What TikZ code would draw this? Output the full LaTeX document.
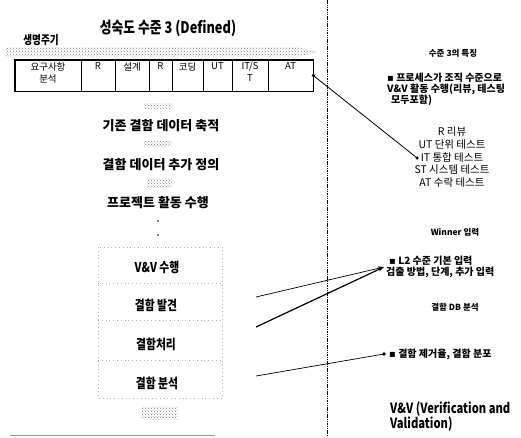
\documentclass[tikz,border=0pt]{standalone}
\usepackage{fontspec}
\setmainfont{Noto Sans CJK KR}
\newfontfamily\krc{Noto Sans CJK KR}[FakeStretch=0.8]
\newfontfamily\dejavu{DejaVu Sans}
\usetikzlibrary{patterns,arrows.meta}
\tikzset{
  cell/.style={draw, line width=0.6pt, minimum height=31pt, inner sep=0pt},
  celltext/.style={font=\fontsize{9.5}{12}\selectfont, anchor=north, inner sep=0pt, align=center},
  midtext/.style={font=\bfseries\fontsize{13}{15}\selectfont, inner sep=1pt},
  boxtext/.style={font=\krc\bfseries\fontsize{13.5}{15}\selectfont, inner sep=1pt},
  head/.style={font=\bfseries\fontsize{8.5}{10}\selectfont, inner sep=1pt},
  listtext/.style={font=\fontsize{10.5}{12}\selectfont, inner sep=3.5pt},
  note/.style={font=\bfseries\fontsize{10}{10.5}\selectfont, align=left, inner sep=2pt},
  patch/.style={pattern=crosshatch dots, pattern color=gray},
  faint/.style={gray!60, line width=0.5pt, dash pattern=on 0.8pt off 3pt},
  link/.style={line width=0.8pt},
  enddot/.style={fill=black},
}
\begin{document}
\begin{tikzpicture}[x=1pt,y=-1pt]
\useasboundingbox (0,0) rectangle (521,437);

% title
\node[font=\krc\bfseries\fontsize{16}{17}\selectfont] (title) at (168,28) {성숙도 수준 3 (Defined)};
\node[font=\krc\bfseries\fontsize{12}{12}\selectfont] (life) at (41,40) {생명주기};

% gray band
\fill[patch] (5,47) -- (298,47) -- (318,52) -- (298,57) -- (5,57) -- cycle;

% table cells
\node[cell, minimum width=66pt] (c1) at (48,75.5) {};
\node[cell, minimum width=34pt] (c2) at (98,75.5) {};
\node[cell, minimum width=34pt] (c3) at (132,75.5) {};
\node[cell, minimum width=23pt] (c4) at (160.5,75.5) {};
\node[cell, minimum width=31pt] (c5) at (187.5,75.5) {};
\node[cell, minimum width=29pt] (c6) at (217.5,75.5) {};
\node[cell, minimum width=36pt] (c7) at (250,75.5) {};
\node[cell, minimum width=45pt] (c8) at (290.5,75.5) {};
\draw[line width=1.6pt] (c1.north west) rectangle (c8.south east);
\node[celltext, below=2.5pt] (t1) at (c1.north) {요구사항\\분석};
\node[celltext, below=2.5pt] (t2) at (c2.north) {R};
\node[celltext, below=2.5pt] (t3) at (c3.north) {설계};
\node[celltext, below=2.5pt] (t4) at (c4.north) {R};
\node[celltext, below=2.5pt] (t5) at (c5.north) {코딩};
\node[celltext, below=2.5pt] (t6) at (c6.north) {UT};
\node[celltext, below=2.5pt] (t7) at (c7.north) {IT/S\\T};
\node[celltext, below=2.5pt] (t8) at (c8.north) {AT};

% middle flow
\fill[patch] (144,103) rectangle (172,108);
\node[midtext] (m1) at (161,126) {기존 결함 데이터 축적};
\fill[patch] (144,141) rectangle (172,146);
\node[midtext] (m2) at (161,165) {결함 데이터 추가 정의};
\fill[patch] (147,178) rectangle (172,187);
\node[midtext] (m3) at (158,203) {프로젝트 활동 수행};
\fill (158,221) circle (0.9);
\fill (158,235) circle (0.9);

% dotted box
\draw[faint] (98,247) rectangle (222,398);
\draw[faint] (98,283) -- (222,283);
\draw[faint] (98,320) -- (222,320);
\draw[faint] (98,360) -- (222,360);
\node[boxtext] (b1) at (157,267) {V\&V 수행};
\node[boxtext] (b2) at (156,305) {결함 발견};
\node[boxtext] (b3) at (156,344) {결함처리};
\node[boxtext] (b4) at (157,383) {결함 분석};
\fill[patch] (142,406) rectangle (178,419);
\draw[gray!80, line width=0.6pt] (10,435) -- (215,435);

% divider
\draw[line width=0.6pt, dash pattern=on 1.5pt off 0.8pt] (327,0) -- (327,437);

% right side
\node[head] (feat) at (453,53) {수준 3의 특징};
\node[note, anchor=north west] (p1) at (385,71) {{\dejavu ▪} 프로세스가 조직 수준으로\\V\&V 활동 수행(리뷰, 테스팅\\\hspace*{4pt}모두포함)};
\node[listtext] (r1) at (452,132) {R 리뷰};
\node[listtext] (r2) at (452,145) {UT 단위 테스트};
\node[listtext] (r3) at (452,158) {IT 통합 테스트};
\node[listtext] (r4) at (452,170) {ST 시스템 테스트};
\node[listtext] (r5) at (452,183) {AT 수락 테스트};

\node[head] (win) at (455,232) {Winner 입력};
\node[note, anchor=west] (l2) at (384,267) {\hspace*{3pt}{\dejavu ▪} L2 수준 기본 입력\\검출 방법, 단계, 추가 입력};
\node[head] (db) at (455,307) {결함 DB 분석};
\node[note, anchor=west] (rem) at (384,354) {\hspace*{3pt}{\dejavu ▪} 결함 제거율, 결함 분포};
\node[font=\krc\bfseries\fontsize{14}{15}\selectfont, align=left, anchor=west, inner sep=1pt] (vv) at (389,417) {V\&V (Verification and\\Validation)};

% connectors
\draw[link] (c8.east) -- (r3.west);
\fill[enddot] (c8.east) circle (1.8);
\fill[enddot] (r3.west) circle (1.8);

\coordinate (s1) at (256,297);
\coordinate (s2) at (256,327);
\coordinate (s3) at (256,376);
\draw[line width=0.7pt, -{Stealth[length=6pt,width=4pt]}] (s1) -- (l2.west);
\draw[line width=1.2pt, -{Stealth[length=6pt,width=4pt]}] (s2) -- (l2.west);
\draw[line width=0.7pt] (s3) -- (rem.west);
\fill[enddot] (rem.west) circle (1.8);
\end{tikzpicture}
\end{document}
